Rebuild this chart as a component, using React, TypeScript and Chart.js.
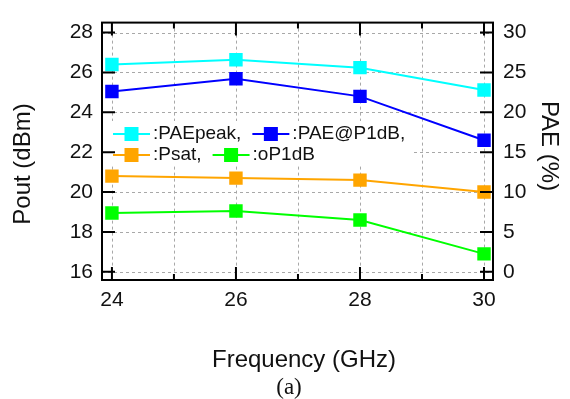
import React, { useEffect, useRef } from "react";
import { Chart, registerables } from "chart.js";

Chart.register(...registerables);

// ---- data ----
const frequencies = [24, 26, 28, 30];
const paePeak = [26.0, 26.6, 25.6, 22.8]; // PAE (%) right axis
const paeAtP1dB = [22.6, 24.2, 22.0, 16.5]; // PAE (%) right axis
const psat = [20.8, 20.7, 20.6, 20.0]; // Pout (dBm) left axis
const oP1dB = [18.95, 19.05, 18.6, 16.9]; // Pout (dBm) left axis

const seriesLabels = [":PAEpeak,", ":PAE@P1dB,", ":Psat,", ":oP1dB"];
const seriesColors = ["#00FFFF", "#0000FF", "#FFA500", "#00FF00"];
const legendRows = [[0, 1], [2, 3]];

const xTickValues = [24, 25, 26, 27, 28, 29, 30];
const xLabelValues = [24, 26, 28, 30];
const leftTickValues = [16, 18, 20, 22, 24, 26, 28];
const rightTickValues = [0, 5, 10, 15, 20, 25, 30];

const xTitle = "Frequency (GHz)";
const leftTitle = "Pout (dBm)";
const rightTitle = "PAE (%)";
const caption = "(a)";

const FONT = "Arial, 'Liberation Sans', sans-serif";
const TEXT = "#111111";

const pts = (vals: number[]) => vals.map((v, i) => ({ x: frequencies[i], y: v }));

const decorPlugin = {
  id: "decor",
  beforeDatasetsDraw(chart: any) {
    const { ctx, chartArea, scales } = chart;
    const { left, right, top, bottom } = chartArea;
    ctx.save();
    ctx.strokeStyle = "#a8a8a8";
    ctx.lineWidth = 1;
    ctx.setLineDash([3, 3]);
    ctx.beginPath();
    xTickValues.forEach((v) => {
      const x = Math.round(scales.x.getPixelForValue(v)) + 0.5;
      ctx.moveTo(x, top);
      ctx.lineTo(x, bottom);
    });
    leftTickValues.forEach((v) => {
      const y = Math.round(scales.y.getPixelForValue(v)) + 0.5;
      ctx.moveTo(left, y);
      ctx.lineTo(right, y);
    });
    ctx.stroke();
    ctx.restore();
  },
  afterDatasetsDraw(chart: any) {
    const { ctx, chartArea } = chart;
    const { left } = chartArea;
    ctx.save();
    // legend box
    ctx.fillStyle = "#ffffff";
    ctx.fillRect(left + 2, 121, 309, 45);
    ctx.font = `19px ${FONT}`;
    ctx.textBaseline = "middle";
    const rowY = [134, 155];
    legendRows.forEach((row, r) => {
      let x = left + 11;
      const y = rowY[r];
      row.forEach((si) => {
        const c = seriesColors[si];
        ctx.strokeStyle = c;
        ctx.lineWidth = 2;
        ctx.beginPath();
        ctx.moveTo(x, y);
        ctx.lineTo(x + 37, y);
        ctx.stroke();
        ctx.fillStyle = c;
        ctx.fillRect(x + 18.5 - 7, y - 7, 14, 14);
        ctx.fillStyle = TEXT;
        ctx.textAlign = "left";
        const tx = x + 40;
        ctx.fillText(seriesLabels[si], tx, y);
        x = tx + ctx.measureText(seriesLabels[si]).width + 11;
      });
    });
    ctx.restore();
  },
  afterDraw(chart: any) {
    const { ctx, chartArea, scales } = chart;
    const { left, right, top, bottom } = chartArea;
    ctx.save();
    ctx.strokeStyle = "#000";
    ctx.lineWidth = 2;
    ctx.strokeRect(left, top, right - left, bottom - top);
    ctx.beginPath();
    xTickValues.forEach((v) => {
      const x = scales.x.getPixelForValue(v);
      const len = xLabelValues.includes(v) ? 13 : 6;
      ctx.moveTo(x, bottom);
      ctx.lineTo(x, bottom - len);
      ctx.moveTo(x, top);
      ctx.lineTo(x, top + len);
    });
    leftTickValues.forEach((v) => {
      const y = scales.y.getPixelForValue(v);
      ctx.moveTo(left, y);
      ctx.lineTo(left + 13, y);
    });
    rightTickValues.forEach((v) => {
      const y = scales.y1.getPixelForValue(v);
      ctx.moveTo(right, y);
      ctx.lineTo(right - 13, y);
    });
    ctx.stroke();

    // axis titles
    ctx.fillStyle = TEXT;
    ctx.font = `24px ${FONT}`;
    ctx.textAlign = "center";
    ctx.textBaseline = "alphabetic";
    ctx.fillText(xTitle, 304, 367);

    ctx.save();
    ctx.translate(30, 164);
    ctx.rotate(-Math.PI / 2);
    ctx.fillText(leftTitle, 0, 0);
    ctx.restore();

    ctx.save();
    ctx.translate(542, 146);
    ctx.rotate(Math.PI / 2);
    ctx.fillText(rightTitle, 0, 0);
    ctx.restore();

    ctx.restore();
  },
};

export default function App() {
  const canvasRef = useRef<HTMLCanvasElement | null>(null);

  useEffect(() => {
    if (!canvasRef.current) return;
    const mk = (label: string, data: number[], color: string, axis: string) => ({
      label,
      data: pts(data),
      yAxisID: axis,
      borderColor: color,
      backgroundColor: color,
      borderWidth: 2,
      pointStyle: "rect" as const,
      pointRadius: 9.5,
      pointBorderWidth: 0,
      pointBackgroundColor: color,
      tension: 0,
    });
    const chart = new Chart(canvasRef.current, {
      type: "line",
      data: {
        datasets: [
          mk(seriesLabels[0], paePeak, seriesColors[0], "y1"),
          mk(seriesLabels[1], paeAtP1dB, seriesColors[1], "y1"),
          mk(seriesLabels[2], psat, seriesColors[2], "y"),
          mk(seriesLabels[3], oP1dB, seriesColors[3], "y"),
        ],
      },
      options: {
        animation: false,
        responsive: false,
        devicePixelRatio: 1,
        layout: { padding: { top: 13, left: 0, right: 0, bottom: 0 } },
        plugins: { legend: { display: false }, tooltip: { enabled: false } },
        scales: {
          x: {
            type: "linear",
            min: 23.84,
            max: 30.145,
            grid: { display: false, drawTicks: false },
            border: { display: false },
            ticks: {
              stepSize: 1,
              includeBounds: false,
              padding: 8,
              color: TEXT,
              font: { family: FONT, size: 21 },
              maxRotation: 0,
              autoSkip: false,
              callback: (v: any) => (xLabelValues.includes(Number(v)) ? String(v) : ""),
            },
            afterFit: (s: any) => {
              s.height = 119;
            },
          },
          y: {
            type: "linear",
            position: "left",
            min: 15.59,
            max: 28.5,
            grid: { display: false, drawTicks: false },
            border: { display: false },
            ticks: {
              stepSize: 2,
              includeBounds: false,
              padding: 9,
              color: TEXT,
              font: { family: FONT, size: 21 },
            },
            afterFit: (s: any) => {
              s.width = 102;
            },
          },
          y1: {
            type: "linear",
            position: "right",
            min: -1.03,
            max: 31.25,
            grid: { display: false, drawTicks: false },
            border: { display: false },
            ticks: {
              stepSize: 5,
              includeBounds: false,
              padding: 10,
              color: TEXT,
              font: { family: FONT, size: 21 },
            },
            afterFit: (s: any) => {
              s.width = 77;
            },
          },
        },
      },
      plugins: [decorPlugin],
    });
    return () => chart.destroy();
  }, []);

  return (
    <div style={{ position: "fixed", left: 0, top: 0, width: 570, height: 399, background: "#fff" }}>
      <canvas ref={canvasRef} width={570} height={399} style={{ position: "absolute", left: 0, top: 0 }} />
      <div
        style={{
          position: "absolute",
          left: 289,
          top: 375,
          transform: "translateX(-50%)",
          fontFamily: "'Liberation Serif', 'Times New Roman', serif",
          fontSize: 23,
          lineHeight: "23px",
          color: TEXT,
          whiteSpace: "nowrap",
        }}
      >
        {caption}
      </div>
    </div>
  );
}
